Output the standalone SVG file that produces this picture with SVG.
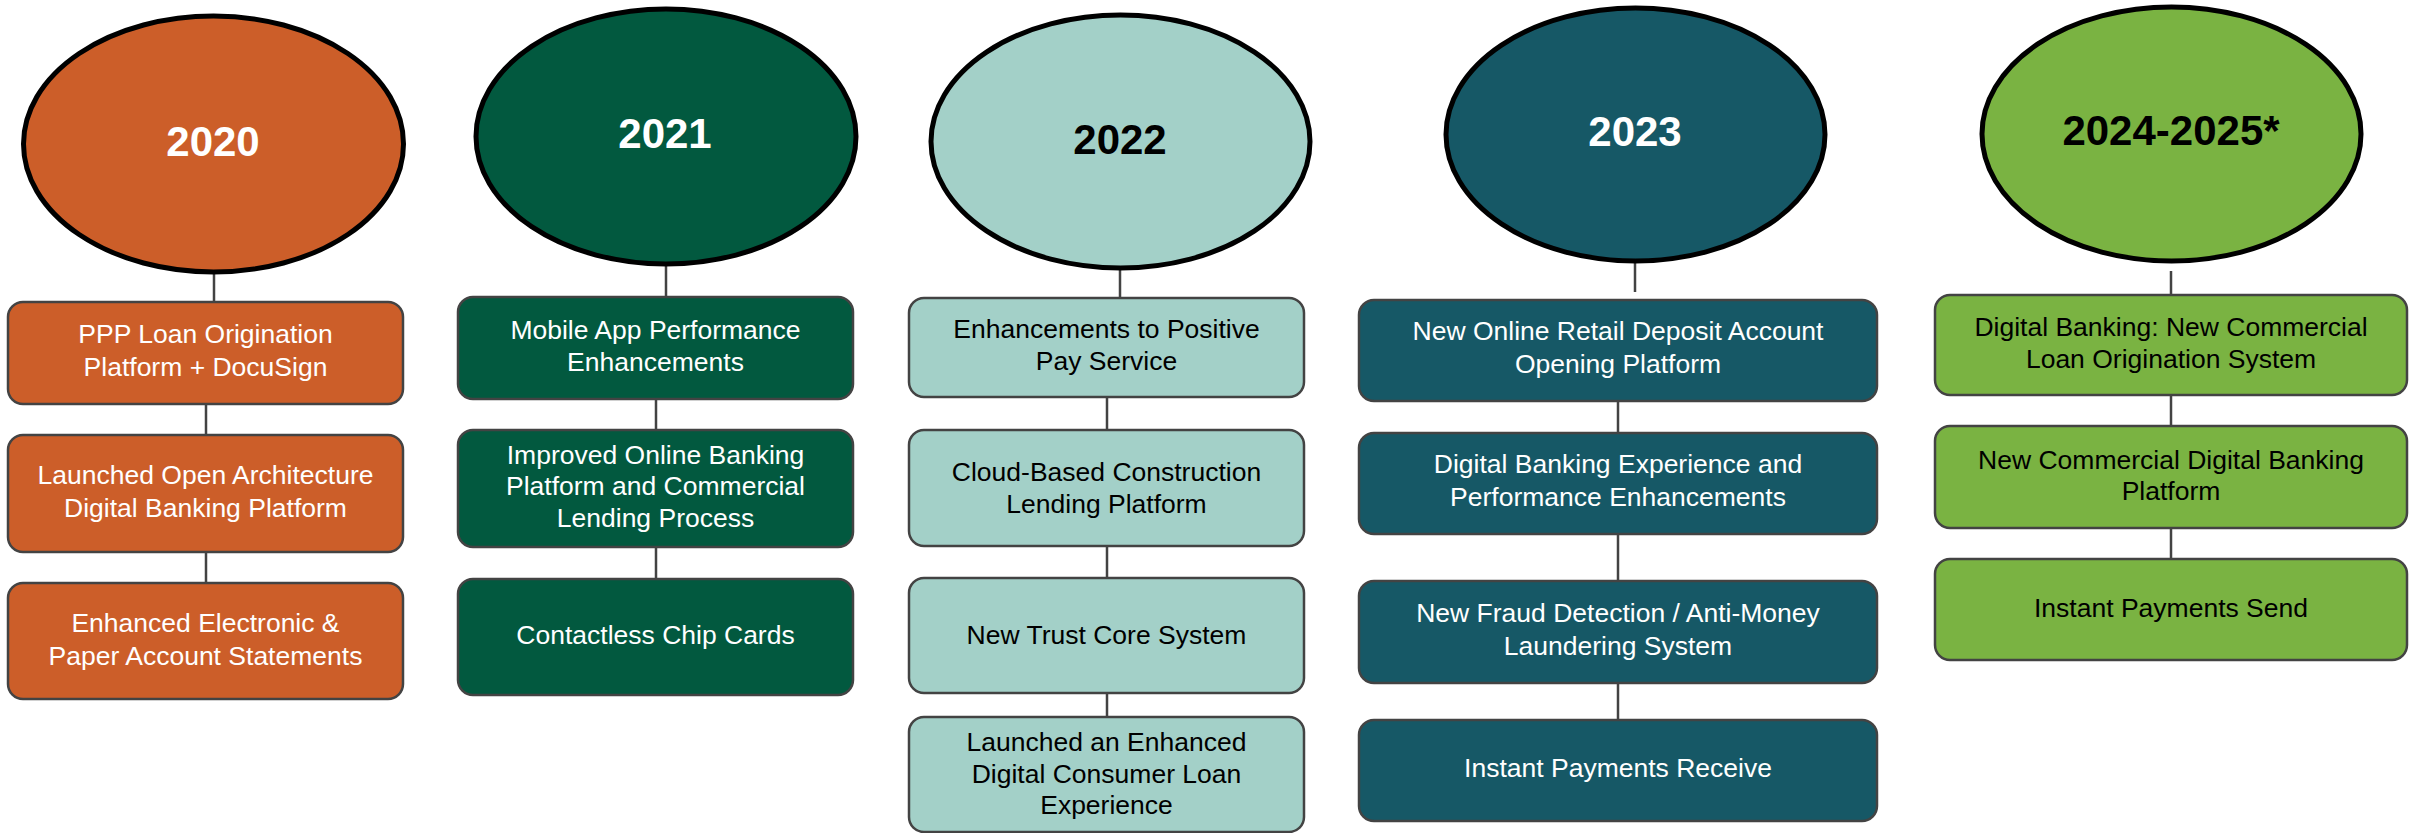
<svg xmlns="http://www.w3.org/2000/svg" width="2418" height="833" viewBox="0 0 2418 833">
<style>
.yr{stroke:#000;stroke-width:5}
.bx{stroke:#434343;stroke-width:2.5}
.c1{fill:#CC5E29}.c2{fill:#02593F}.c3{fill:#A3D0C8}.c4{fill:#165866}.c5{fill:#7AB342}
.yt{font-family:"Liberation Sans",Arial,sans-serif;font-weight:bold;font-size:42px;text-anchor:middle}
.t{font-family:"Liberation Sans",Arial,sans-serif;font-size:26.5px;text-anchor:middle}
.w{fill:#fff}.k{fill:#000}
.ln{stroke:#434343;stroke-width:2.5;fill:none}
</style>
<rect width="2418" height="833" fill="#fff"/>
<g id="connectors">
<path class="ln" d="M214 272V302M206 404V435M206 552V583"/>
<path class="ln" d="M666 264V297M656 399V430M656 547V579"/>
<path class="ln" d="M1120 268V298M1107 397V430M1107 546V578M1107 693V717"/>
<path class="ln" d="M1635 261V292M1618 401V433M1618 534V581M1618 683V720"/>
<path class="ln" d="M2171 271V295M2171 395V431M2171 528V559"/>
</g>
<g id="y2020"><ellipse class="yr c1" cx="213.5" cy="144" rx="190" ry="128"/><text class="yt w" x="213" y="156">2020</text></g>
<g id="n2020a"><rect class="bx c1" x="8" y="302" width="395" height="102" rx="15"/><text class="t w" x="205.5" y="343">PPP Loan Origination</text><text class="t w" x="205.5" y="376">Platform + DocuSign</text></g>
<g id="n2020b"><rect class="bx c1" x="8" y="435" width="395" height="117" rx="15"/><text class="t w" x="205.5" y="484">Launched Open Architecture</text><text class="t w" x="205.5" y="517">Digital Banking Platform</text></g>
<g id="n2020c"><rect class="bx c1" x="8" y="583" width="395" height="116" rx="15"/><text class="t w" x="205.5" y="632">Enhanced Electronic &amp;</text><text class="t w" x="205.5" y="665">Paper Account Statements</text></g>

<g id="y2021"><ellipse class="yr c2" cx="666" cy="136.5" rx="190" ry="127.5"/><text class="yt w" x="665" y="148">2021</text></g>
<g id="n2021a"><rect class="bx c2" x="458" y="297" width="395" height="102" rx="15"/><text class="t w" x="655.5" y="339">Mobile App Performance</text><text class="t w" x="655.5" y="371">Enhancements</text></g>
<g id="n2021b"><rect class="bx c2" x="458" y="430" width="395" height="117" rx="15"/><text class="t w" x="655.5" y="464">Improved Online Banking</text><text class="t w" x="655.5" y="495">Platform and Commercial</text><text class="t w" x="655.5" y="527">Lending Process</text></g>
<g id="n2021c"><rect class="bx c2" x="458" y="579" width="395" height="116" rx="15"/><text class="t w" x="655.5" y="644">Contactless Chip Cards</text></g>

<g id="y2022"><ellipse class="yr c3" cx="1120.5" cy="141.5" rx="189.5" ry="126.5"/><text class="yt k" x="1120" y="154">2022</text></g>
<g id="n2022a"><rect class="bx c3" x="909" y="298" width="395" height="99" rx="15"/><text class="t k" x="1106.5" y="338">Enhancements to Positive</text><text class="t k" x="1106.5" y="370">Pay Service</text></g>
<g id="n2022b"><rect class="bx c3" x="909" y="430" width="395" height="116" rx="15"/><text class="t k" x="1106.5" y="481">Cloud-Based Construction</text><text class="t k" x="1106.5" y="513">Lending Platform</text></g>
<g id="n2022c"><rect class="bx c3" x="909" y="578" width="395" height="115" rx="15"/><text class="t k" x="1106.5" y="644">New Trust Core System</text></g>
<g id="n2022d"><rect class="bx c3" x="909" y="717" width="395" height="115" rx="15"/><text class="t k" x="1106.5" y="751">Launched an Enhanced</text><text class="t k" x="1106.5" y="783">Digital Consumer Loan</text><text class="t k" x="1106.5" y="814">Experience</text></g>

<g id="y2023"><ellipse class="yr c4" cx="1635.5" cy="134.5" rx="189.5" ry="126.5"/><text class="yt w" x="1635" y="146">2023</text></g>
<g id="n2023a"><rect class="bx c4" x="1359" y="300" width="518" height="101" rx="15"/><text class="t w" x="1618" y="340">New Online Retail Deposit Account</text><text class="t w" x="1618" y="373">Opening Platform</text></g>
<g id="n2023b"><rect class="bx c4" x="1359" y="433" width="518" height="101" rx="15"/><text class="t w" x="1618" y="473">Digital Banking Experience and</text><text class="t w" x="1618" y="506">Performance Enhancements</text></g>
<g id="n2023c"><rect class="bx c4" x="1359" y="581" width="518" height="102" rx="15"/><text class="t w" x="1618" y="622">New Fraud Detection / Anti-Money</text><text class="t w" x="1618" y="655">Laundering System</text></g>
<g id="n2023d"><rect class="bx c4" x="1359" y="720" width="518" height="101" rx="15"/><text class="t w" x="1618" y="777">Instant Payments Receive</text></g>

<g id="y2024"><ellipse class="yr c5" cx="2171.5" cy="134" rx="189.5" ry="127"/><text class="yt k" x="2171" y="145">2024-2025*</text></g>
<g id="n2024a"><rect class="bx c5" x="1935" y="295" width="472" height="100" rx="15"/><text class="t k" x="2171" y="336">Digital Banking: New Commercial</text><text class="t k" x="2171" y="368">Loan Origination System</text></g>
<g id="n2024b"><rect class="bx c5" x="1935" y="426" width="472" height="102" rx="15"/><text class="t k" x="2171" y="469">New Commercial Digital Banking</text><text class="t k" x="2171" y="500">Platform</text></g>
<g id="n2024c"><rect class="bx c5" x="1935" y="559" width="472" height="101" rx="15"/><text class="t k" x="2171" y="617">Instant Payments Send</text></g>
</svg>
